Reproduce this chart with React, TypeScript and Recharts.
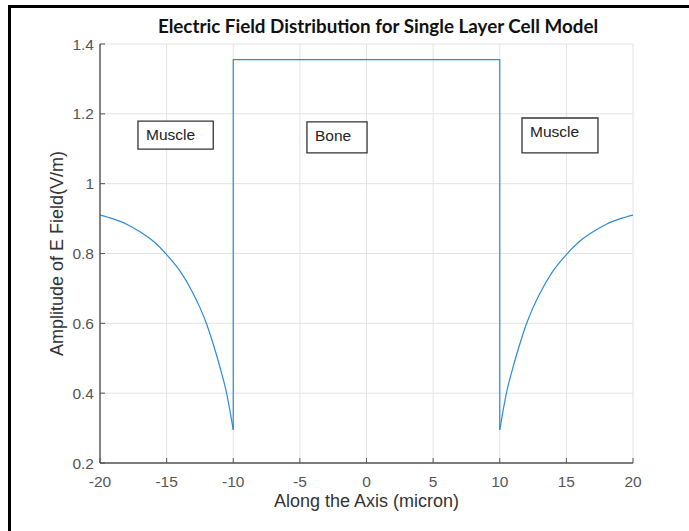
import React from 'react';
import {
  CartesianGrid,
  Line,
  LineChart,
  ReferenceArea,
  XAxis,
  YAxis,
} from 'recharts';

// Muscle region, left side (x in micron, E in V/m)
const leftMuscleX = [-20, -19, -18, -17, -16, -15, -14, -13, -12.5, -12, -11.5, -11, -10.5, -10.25, -10];
const leftMuscleE = [0.91, 0.899, 0.884, 0.862, 0.835, 0.797, 0.75, 0.685, 0.645, 0.598, 0.54, 0.475, 0.4, 0.35, 0.295];

// Bone region: jumps up at -10, flat, drops at +10
const boneX = [-10, -10, 10, 10];
const boneE = [0.295, 1.355, 1.355, 0.295];

// Muscle region, right side
const rightMuscleX = [10, 10.25, 10.5, 11, 11.5, 12, 12.5, 13, 14, 15, 16, 17, 18, 19, 20];
const rightMuscleE = [0.295, 0.35, 0.4, 0.475, 0.54, 0.598, 0.645, 0.685, 0.75, 0.797, 0.835, 0.862, 0.884, 0.899, 0.91];

const xTicks = [-20, -15, -10, -5, 0, 5, 10, 15, 20];
const yTicks = [0.2, 0.4, 0.6, 0.8, 1, 1.2, 1.4];

const regionLabels = ['Muscle', 'Bone', 'Muscle'];

const leftData = leftMuscleX.map((x, i) => ({ x, e: leftMuscleE[i] }));
const boneData = boneX.map((x, i) => ({ x, e: boneE[i] }));
const rightData = rightMuscleX.map((x, i) => ({ x, e: rightMuscleE[i] }));

const AXIS = '#555';
const LINE = '#2f8ad2';
const FONT = '"Liberation Sans", Arial, sans-serif';

const boxLabel = (value: string) => ({
  value,
  position: 'insideTopLeft' as const,
  offset: 8,
  fill: '#222',
  fontSize: 15.5,
});

const boxStyle = {
  fill: '#fff',
  fillOpacity: 1,
  stroke: '#333',
  strokeWidth: 1.3,
};

export default function App() {
  return (
    <div
      style={{
        position: 'absolute',
        left: 0,
        top: 0,
        width: 689,
        height: 531,
        overflow: 'hidden',
        background: '#fff',
        fontFamily: FONT,
      }}
    >
      {/* outer frame, runs off the right and bottom edge */}
      <div
        style={{
          position: 'absolute',
          left: 8,
          top: 5,
          width: 700,
          height: 545,
          border: '3px solid #000',
          boxSizing: 'border-box',
        }}
      />
      <div
        style={{
          position: 'absolute',
          left: 0,
          width: 756,
          top: 14,
          textAlign: 'center',
          fontFamily: 'Lato, sans-serif',
          fontWeight: 700,
          fontSize: 18.8,
          color: '#111',
        }}
      >
        Electric Field Distribution for Single Layer Cell Model
      </div>
      <LineChart
        width={689}
        height={531}
        margin={{ top: 44, right: 56, bottom: 18, left: 50 }}
        style={{ position: 'absolute', left: 0, top: 0 }}
      >
        <CartesianGrid stroke="#e3e3e3" />
        <XAxis
          dataKey="x"
          type="number"
          domain={[-20, 20]}
          ticks={xTicks}
          allowDataOverflow
          height={50}
          stroke={AXIS}
          axisLine={{ stroke: AXIS, strokeWidth: 1.4 }}
          tickSize={-5}
          tickMargin={18}
          tick={{ fill: AXIS, fontSize: 15.5 }}
          label={{
            value: 'Along the Axis (micron)',
            position: 'insideBottom',
            offset: 6,
            fill: '#333',
            fontSize: 18,
          }}
        />
        <XAxis
          xAxisId="top"
          dataKey="x"
          orientation="top"
          type="number"
          domain={[-20, 20]}
          ticks={xTicks}
          height={0}
          stroke={AXIS}
          axisLine={{ stroke: AXIS, strokeWidth: 1.4 }}
          tickSize={-5}
          tickFormatter={() => ''}
        />
        <YAxis
          type="number"
          domain={[0.2, 1.4]}
          ticks={yTicks}
          allowDataOverflow
          width={50}
          stroke={AXIS}
          axisLine={{ stroke: AXIS, strokeWidth: 1.4 }}
          tickSize={-5}
          tickMargin={11}
          tickFormatter={(v: number) => String(v)}
          tick={{ fill: AXIS, fontSize: 15.5 }}
          label={{
            value: 'Amplitude of E Field(V/m)',
            angle: -90,
            position: 'insideLeft',
            offset: 7,
            fill: '#333',
            fontSize: 18,
            style: { textAnchor: 'middle' },
          }}
        />
        <YAxis
          yAxisId="right"
          orientation="right"
          type="number"
          domain={[0.2, 1.4]}
          ticks={yTicks}
          width={0}
          stroke={AXIS}
          axisLine={{ stroke: AXIS, strokeWidth: 1.4 }}
          tickSize={-5}
          tickFormatter={() => ''}
        />
        <ReferenceArea x1={-17.15} x2={-11.5} y1={1.099} y2={1.179} {...boxStyle} label={boxLabel(regionLabels[0])} />
        <ReferenceArea x1={-4.47} x2={0.04} y1={1.088} y2={1.177} {...boxStyle} label={boxLabel(regionLabels[1])} />
        <ReferenceArea x1={11.67} x2={17.37} y1={1.088} y2={1.188} {...boxStyle} label={boxLabel(regionLabels[2])} />
        <Line
          data={leftData}
          type="monotone"
          dataKey="e"
          stroke={LINE}
          strokeWidth={1.2}
          dot={false}
          activeDot={false}
          isAnimationActive={false}
        />
        <Line
          data={boneData}
          type="linear"
          dataKey="e"
          stroke={LINE}
          strokeWidth={1.2}
          dot={false}
          activeDot={false}
          isAnimationActive={false}
        />
        <Line
          data={rightData}
          type="monotone"
          dataKey="e"
          stroke={LINE}
          strokeWidth={1.2}
          dot={false}
          activeDot={false}
          isAnimationActive={false}
        />
      </LineChart>
    </div>
  );
}
